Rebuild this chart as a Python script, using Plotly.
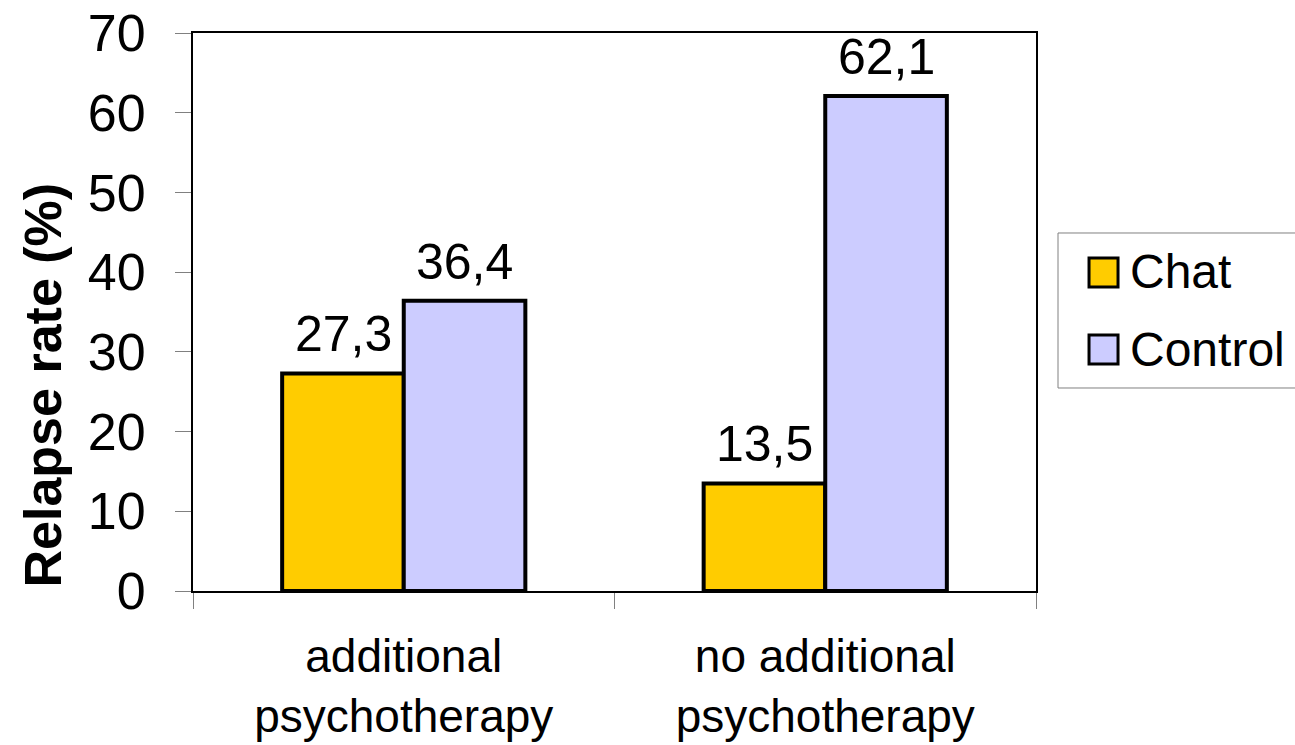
import plotly.graph_objects as go

# Relapse rates by treatment arm and psychotherapy status
categories = ["additional<br>psychotherapy", "no additional<br>psychotherapy"]
series_names = ["Chat", "Control"]
chat_values = [27.3, 13.5]
control_values = [36.4, 62.1]
y_ticks = [0, 10, 20, 30, 40, 50, 60, 70]

colors = {"Chat": "#FFCC00", "Control": "#CCCCFF"}
FONT = "Liberation Sans, Arial, sans-serif"

fig = go.Figure()
for name, vals in zip(series_names, [chat_values, control_values]):
    fig.add_trace(go.Bar(
        x=categories, y=vals, name=name,
        marker=dict(color=colors[name], line=dict(color="black", width=4)),
        showlegend=False,
    ))

# Value labels above each bar (comma as decimal separator)
bar_offset = 60.75
for i, (name, vals) in enumerate(zip(series_names, [chat_values, control_values])):
    shift = -bar_offset if i == 0 else bar_offset
    for cat, v in zip(categories, vals):
        fig.add_annotation(
            x=cat, y=v, xref="x", yref="y",
            text=f"{v:.1f}".replace(".", ","),
            showarrow=False, xanchor="center", yanchor="bottom",
            xshift=shift, yshift=9,
            font=dict(family=FONT, size=50, color="black"),
        )

# Y-axis title
fig.add_annotation(
    x=-0.178, y=0.37, xref="paper", yref="paper",
    text="<b>Relapse rate (%)</b>", textangle=-90, showarrow=False,
    xanchor="center", yanchor="middle",
    font=dict(family=FONT, size=52, color="black"),
)

# Legend box drawn in paper coordinates
shapes = [
    dict(type="rect", xref="paper", yref="paper",
         x0=1.0261, x1=1.32, y0=0.3638, y1=0.6416,
         line=dict(color="#808080", width=1), fillcolor="white", layer="below"),
]
legend_rows = [(series_names[0], 0.5968, 0.5448, 0.5717),
               (series_names[1], 0.4588, 0.4068, 0.4319)]
for name, ytop, ybot, ytext in legend_rows:
    shapes.append(dict(type="rect", xref="paper", yref="paper",
                       x0=1.0629, x1=1.0973, y0=ybot, y1=ytop,
                       line=dict(color="black", width=3), fillcolor=colors[name]))
    fig.add_annotation(
        x=1.1091, y=ytext, xref="paper", yref="paper", text=name,
        showarrow=False, xanchor="left", yanchor="middle",
        font=dict(family=FONT, size=48, color="black"),
    )

fig.update_layout(
    width=1295, height=745,
    margin=dict(l=193, r=259, t=33, b=154, pad=0),
    paper_bgcolor="white", plot_bgcolor="white",
    barmode="group", bargap=0.423, bargroupgap=0,
    shapes=shapes,
    font=dict(family=FONT, color="black"),
)
fig.update_xaxes(
    automargin=False,
    showline=True, linecolor="black", linewidth=2, mirror=True,
    ticks="outside", ticklen=16, tickcolor="#808080", tickwidth=1,
    tickson="boundaries", showgrid=False,
    tickfont=dict(family=FONT, size=46, color="black"),
    ticklabelstandoff=24,
)
fig.update_yaxes(
    automargin=False,
    range=[0, 70], tickvals=y_ticks,
    showline=True, linecolor="black", linewidth=2, mirror=True,
    ticks="outside", ticklen=16, tickcolor="#808080", tickwidth=1,
    showgrid=False, zeroline=False,
    tickfont=dict(family=FONT, size=52, color="black"),
    ticklabelstandoff=19,
)

fig.write_html("out.html")
